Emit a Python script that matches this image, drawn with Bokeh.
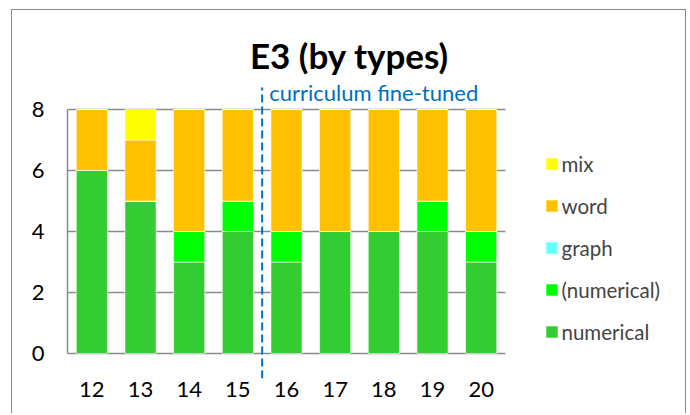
from bokeh.plotting import figure
from bokeh.models import Legend, LegendItem, Label, FixedTicker
from bokeh.embed import file_html
from bokeh.resources import INLINE

categories = [12, 13, 14, 15, 16, 17, 18, 19, 20]
numerical = [6, 5, 3, 4, 3, 4, 4, 4, 3]
numerical_paren = [0, 0, 1, 1, 1, 0, 0, 1, 1]
graph = [0, 0, 0, 0, 0, 0, 0, 0, 0]
word = [2, 2, 4, 3, 4, 4, 4, 3, 4]
mix = [0, 1, 0, 0, 0, 0, 0, 0, 0]
y_ticks = [0, 2, 4, 6, 8]
split_after = 15
title_text = "E3 (by types)"
note_text = "curriculum fine-tuned"

series = ["numerical", "(numerical)", "graph", "word", "mix"]
colors = ["#33CC33", "#00FF00", "#66FFFF", "#FFC000", "#FFFF00"]
data = {"x": categories, "numerical": numerical, "(numerical)": numerical_paren,
        "graph": graph, "word": word, "mix": mix}

FONT = "Lato"
GRAY = "#8a8a8a"
x_lo = categories[0] - 0.5
x_hi = categories[-1] + 0.5

# frame extends past the bars (right: legend room; below 0 / above 8: divider
# line and title); axis line and grid are bounded to the bar area
p = figure(width=675, height=404, output_backend="svg", toolbar_location=None,
           x_range=(x_lo, 24.137), y_range=(-0.82, 10.59),
           min_border_left=55, min_border_right=5, min_border_top=20, min_border_bottom=36)
p.styles = {"border-top": "1.5px solid " + GRAY, "border-left": "1.5px solid " + GRAY,
            "border-right": "1.5px solid " + GRAY, "margin-left": "10.5px", "margin-top": "8.5px"}
p.outline_line_color = None
p.background_fill_color = "white"

renderers = p.vbar_stack(series, x="x", width=0.64, color=colors, source=data,
                         line_color="white", line_width=0.6)

p.segment(x0=[split_after + 0.5], x1=[split_after + 0.5], y0=[-0.82], y1=[8.72],
          line_color="#0070C0", line_width=2, line_dash="8 4")

p.xaxis.ticker = FixedTicker(ticks=categories)
p.yaxis.ticker = FixedTicker(ticks=y_ticks)
p.yaxis.bounds = (0, 8)
for ax in (p.xaxis, p.yaxis):
    ax.axis_line_color = GRAY
    ax.axis_line_width = 1.5
    ax.major_tick_line_color = None
    ax.minor_tick_line_color = None
    ax.major_tick_out = 0
    ax.major_tick_in = 0
    ax.major_label_text_font = FONT
    ax.major_label_text_font_size = "22px"
    ax.major_label_text_color = "black"
p.xaxis.axis_line_color = None
p.xaxis.major_label_standoff = 3
p.yaxis.major_label_standoff = 23
p.xgrid.grid_line_color = None
p.ygrid.grid_line_color = GRAY
p.ygrid.grid_line_width = 1.5
p.ygrid.cross_bounds = (x_lo, x_hi)

p.add_layout(Label(x=split_after + 0.5, y=8, x_offset=7, y_offset=3, text=note_text,
                   text_font=FONT, text_font_size="22px", text_color="#0070C0"))
p.add_layout(Label(x=(categories[0] + categories[-1]) / 2, y=8, x_offset=63, y_offset=54,
                   text=title_text, text_font=FONT, text_font_size="35px",
                   text_font_style="bold", text_align="center", text_baseline="middle",
                   text_color="black"))

items = [LegendItem(label=s, renderers=[r]) for s, r in zip(series, renderers)][::-1]
legend = Legend(items=items, location=(477, 34), orientation="vertical",
                border_line_color=None, background_fill_alpha=0,
                label_text_font=FONT, label_text_font_size="20.5px",
                glyph_width=15, glyph_height=15, label_height=20, spacing=18,
                label_standoff=3, padding=0, margin=0)
p.add_layout(legend, "center")

open("out.html", "w").write(file_html(p, INLINE))
